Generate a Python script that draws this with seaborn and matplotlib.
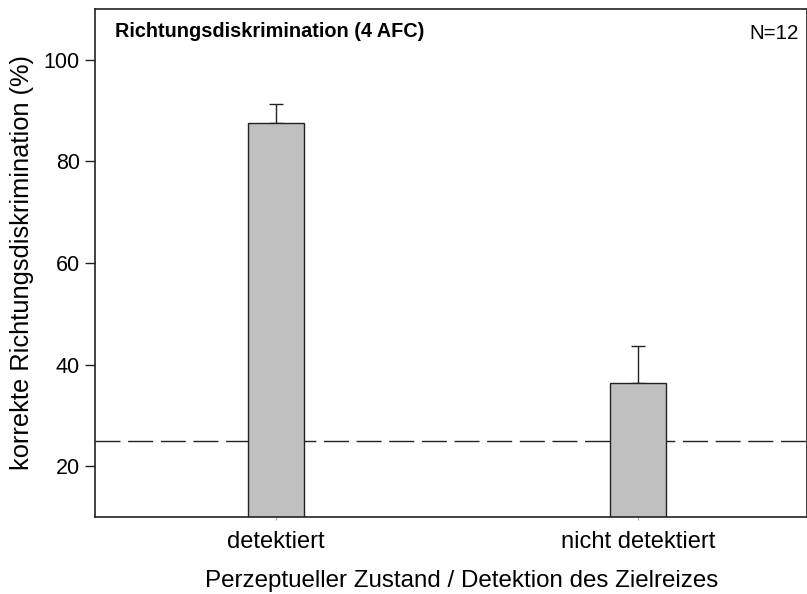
import matplotlib
matplotlib.use('Agg')
import matplotlib.pyplot as plt
import seaborn as sns
import pandas as pd

# values
conditions = ['detektiert', 'nicht detektiert']
accuracy = [87.6, 36.4]
sem = [3.7, 7.3]
chance_level = 25

sns.set_style('white')
plt.rcParams['font.family'] = ['Liberation Sans', 'DejaVu Sans']
plt.rcParams['text.color'] = 'black'
plt.rcParams['axes.labelcolor'] = 'black'
plt.rcParams['xtick.color'] = 'black'
plt.rcParams['ytick.color'] = 'black'

df = pd.DataFrame({'condition': conditions, 'accuracy': accuracy})

fig = plt.figure(figsize=(8.07, 5.94), dpi=100)
ax = fig.add_axes([95 / 807, 1 - 517 / 594, 1 - 95 / 807, (517 - 9) / 594])

# chance level line behind the bars
ax.axhline(chance_level, color='#222222', lw=1, dashes=(18, 5.5), zorder=1)

sns.barplot(data=df, x='condition', y='accuracy', color='#c0c0c0', width=0.155,
            edgecolor='#222222', linewidth=1, errorbar=None, saturation=1, ax=ax, zorder=2)

# upper error bars only
ax.errorbar(range(len(conditions)), accuracy, yerr=[[0] * len(sem), sem],
            fmt='none', ecolor='#222222', elinewidth=1, capsize=5, capthick=1, zorder=1.5)

ax.set_ylim(10, 110)
ax.set_xlim(-0.5, 1.467)
ax.set_yticks([20, 40, 60, 80, 100])

ax.set_xlabel('Perzeptueller Zustand / Detektion des Zielreizes', fontsize=17.4)
ax.xaxis.set_label_coords(0.515, -0.105)
ax.set_ylabel('korrekte Richtungsdiskrimination (%)', fontsize=18.3)
ax.yaxis.set_label_coords(-0.086, 0.5)
ax.tick_params(axis='y', direction='out', length=7, width=1, color='#222222', labelsize=15.5, pad=4, left=True)
ax.tick_params(axis='x', direction='out', length=2, width=0.8, color='#aaaaaa', labelsize=17, pad=8, bottom=True)

for side in ['left', 'bottom', 'top', 'right']:
    ax.spines[side].set_color('#222222')
    ax.spines[side].set_linewidth(1.2)

ax.text(0.028, 0.955, 'Richtungsdiskrimination (4 AFC)', transform=ax.transAxes,
        fontsize=14.3, fontweight='bold', va='center', ha='left')
ax.text(0.988, 0.952, 'N=12', transform=ax.transAxes, fontsize=14.8, va='center', ha='right')

fig.savefig('out.png', dpi=100)
